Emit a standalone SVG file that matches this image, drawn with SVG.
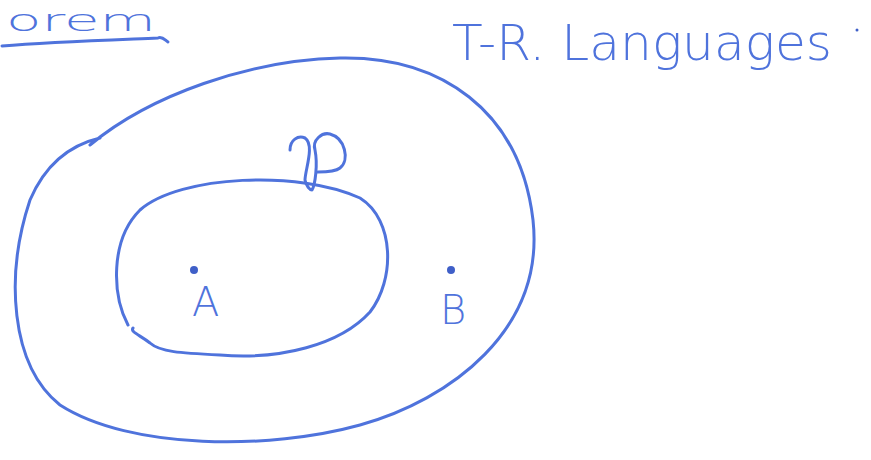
<svg xmlns="http://www.w3.org/2000/svg" width="871" height="460" viewBox="0 0 871 460">
<style>
.ink{fill:none;stroke:#4f73dc;stroke-width:3;stroke-linecap:round;stroke-linejoin:round}
.txt{fill:#4f73dc;font-family:"DejaVu Sans","Liberation Sans",sans-serif;font-weight:300}
.dot{fill:#3f5fc8}
</style>
<rect width="871" height="460" fill="#ffffff"/>
<g id="title">
<text class="txt" x="6" y="31" font-size="30" textLength="150" lengthAdjust="spacingAndGlyphs">orem</text>
<path class="ink" d="M 2 46 C 50 42, 110 40, 158 38 C 162 36, 165 40, 168 42"/>
</g>
<g id="tr-label">
<text class="txt" x="452" y="60" font-size="50" textLength="380" lengthAdjust="spacingAndGlyphs">T-R. Languages</text>
<circle class="dot" cx="857" cy="30" r="1.5"/>
</g>
<g id="outer">
<path class="ink" d="M 90 145 C 150 95, 250 60, 340 58 C 440 56, 520 110, 533 220 C 545 330, 450 400, 360 425 C 270 450, 130 450, 60 405 C 10 365, 5 275, 30 200 C 45 165, 70 145, 100 138"/>
</g>
<g id="inner">
<path class="ink" d="M 128 325 C 112 295, 110 240, 140 210 C 180 175, 300 170, 360 198 C 395 220, 395 280, 370 312 C 340 345, 280 360, 220 355 C 180 353, 160 352, 150 343 C 140 335, 130 332, 133 328"/>
</g>
<g id="P">
<path class="ink" d="M 290 150 C 290 140, 298 135, 305 138 C 315 145, 305 170, 305 180 C 306 186, 310 190, 312 190 C 315 185, 318 165, 315 150 C 312 140, 322 132, 330 134 C 345 138, 350 160, 340 168 C 335 172, 325 172, 318 172"/>
</g>
<g id="A">
<circle class="dot" cx="194" cy="270" r="4"/>
<text class="txt" x="192" y="316" font-size="40">A</text>
</g>
<g id="B">
<circle class="dot" cx="451" cy="270" r="4"/>
<text class="txt" x="440" y="324" font-size="40">B</text>
</g>
</svg>
